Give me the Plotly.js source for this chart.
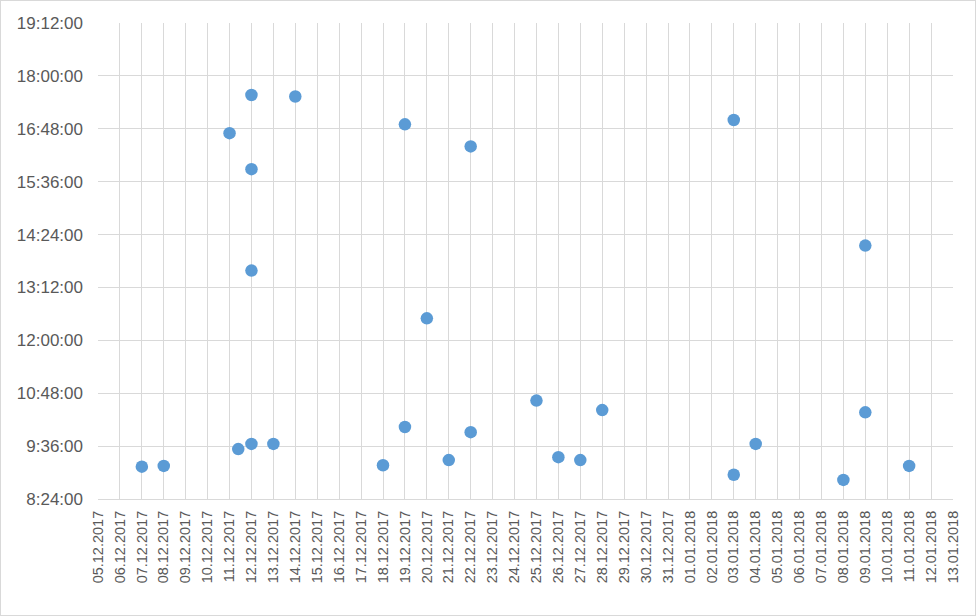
<!DOCTYPE html>
<html>
<head>
<meta charset="utf-8">
<script src="https://cdn.plot.ly/plotly-3.0.1.min.js"></script>
<style>
  html, body { margin: 0; padding: 0; background: #fff; }
  #chart { width: 976px; height: 616px; box-sizing: border-box; border: 1px solid #D9D9D9; }
</style>
</head>
<body>
<div id="chart"></div>
<script>
// Dates (x) and times of day (y)
const dates = ['2017-12-07','2017-12-08','2017-12-11 09:32','2017-12-11','2017-12-12','2017-12-12','2017-12-12','2017-12-12',
  '2017-12-13','2017-12-14','2017-12-18','2017-12-19','2017-12-19','2017-12-20','2017-12-21','2017-12-22','2017-12-22',
  '2017-12-25','2017-12-26','2017-12-27','2017-12-28','2018-01-03','2018-01-03','2018-01-04','2018-01-08','2018-01-09',
  '2018-01-09','2018-01-11'];
const times = ['09:08','09:09','09:32','16:42','09:39','13:35','15:53','17:34',
  '09:39','17:32','09:10','10:02','16:54','12:30','09:17','09:55','16:24',
  '10:38','09:21','09:17','10:25','08:57','17:00','09:39','08:50','10:22',
  '14:09','09:09'];
const xRange = ['2017-12-05','2018-01-13'];
const yRange = ['08:24','19:12'];
const baseDay = '1970-01-01 ';

const trace = {
  type: 'scatter',
  mode: 'markers',
  x: dates,
  y: times.map(t => baseDay + t),
  marker: { color: '#5B9BD5', size: 12.5 },
  hoverinfo: 'x+y'
};

const layout = {
  width: 974, height: 614,
  margin: { l: 97, r: 22, t: 22, b: 116 },
  paper_bgcolor: '#fff', plot_bgcolor: '#fff',
  showlegend: false,
  font: { family: 'Liberation Sans, Arial, sans-serif', color: '#595959' },
  xaxis: {
    type: 'date',
    range: xRange,
    dtick: 86400000,
    tick0: '2017-12-05',
    tickformat: '%d.%m.%Y',
    tickangle: -90,
    tickfont: { size: 14.5, color: '#595959' },
    showgrid: true, gridcolor: '#D9D9D9', gridwidth: 1,
    showline: true, linecolor: '#D9D9D9', linewidth: 1,
    zeroline: false, ticks: '', ticklabelstandoff: 5
  },
  yaxis: {
    type: 'date',
    range: yRange.map(t => baseDay + t),
    dtick: 72 * 60000,
    tick0: baseDay + '08:24',
    tickformat: '%-H:%M:%S',
    tickfont: { size: 17, color: '#595959' },
    showgrid: true, gridcolor: '#D9D9D9', gridwidth: 1,
    showline: false, zeroline: false, ticks: '', ticklabelstandoff: 14
  }
};

Plotly.newPlot('chart', [trace], layout, { displayModeBar: false, staticPlot: true });
</script>
</body>
</html>
